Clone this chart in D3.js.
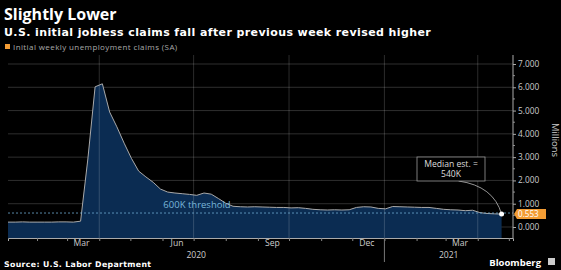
<!DOCTYPE html>
<html>
<head>
<meta charset="utf-8">
<script src="https://cdn.jsdelivr.net/npm/d3@7"></script>
<style>
  html, body { margin: 0; padding: 0; background: #000; }
  svg { display: block; font-family: "Open Sans", "DejaVu Sans", sans-serif; }
</style>
</head>
<body>
<div id="chart"></div>
<script>
// weekly initial claims, millions, week ending Sat 2020-01-04 .. 2021-04-24
const firstWeek = new Date(2020, 0, 4)
const lastWeek = new Date(2021, 3, 24)
const claims = [
  0.21, 0.21, 0.22, 0.21, 0.21, 0.21, 0.21, 0.22, 0.22, 0.21,
  0.25, 2.92, 6.02, 6.15, 4.94, 4.30, 3.60, 2.95, 2.40, 2.15,
  1.92, 1.63, 1.50, 1.46, 1.43, 1.40, 1.36, 1.46, 1.41, 1.22,
  1.02, 0.89, 0.87, 0.86, 0.87, 0.86, 0.85, 0.84, 0.84, 0.82,
  0.83, 0.80, 0.76, 0.74, 0.73, 0.74, 0.73, 0.74, 0.84, 0.87,
  0.86, 0.80, 0.78, 0.88, 0.87, 0.86, 0.85, 0.84, 0.84, 0.80,
  0.76, 0.74, 0.73, 0.70, 0.72, 0.62, 0.58, 0.566, 0.553
]
const yTicks = [0, 1, 2, 3, 4, 5, 6, 7]
const monthLabels = ["Mar", "Jun", "Sep", "Dec", "Mar"]
const monthLabelDates = [new Date(2020, 2, 15), new Date(2020, 5, 15), new Date(2020, 8, 15), new Date(2020, 11, 15), new Date(2021, 2, 15)]
const yearLabels = ["2020", "2021"]
const thresholdValue = 0.6
const medianEstimate = ["Median est. =", "540K"]

const weeks = d3.timeSaturday.range(firstWeek, d3.timeDay.offset(lastWeek, 1))
const data = weeks.map((d, i) => ({ date: d, value: claims[i] }))

const width = 561, height = 270
const plotLeft = 8, plotRight = 513, plotTop = 55, plotBottom = 238

const svg = d3.select("#chart").append("svg")
  .attr("width", width)
  .attr("height", height)

svg.append("rect").attr("width", width).attr("height", height).attr("fill", "#000")

// scales
const x = d3.scaleTime()
  .domain([new Date(2020, 0, 4), new Date(2021, 4, 5)])
  .range([plotLeft, plotRight])

const y = d3.scaleLinear()
  .domain([0, 7])
  .range([227, 64])

// titles
svg.append("text")
  .attr("x", 4).attr("y", 20)
  .attr("fill", "#fff")
  .attr("font-size", 16).attr("font-weight", "bold")
  .text("Slightly Lower")

svg.append("text")
  .attr("x", 4).attr("y", 36)
  .attr("fill", "#fff")
  .attr("font-family", "DejaVu Sans, sans-serif")
  .attr("font-size", 11).attr("font-weight", "bold")
  .attr("letter-spacing", 0.4)
  .text("U.S. initial jobless claims fall after previous week revised higher")

// legend
svg.append("rect")
  .attr("x", 5).attr("y", 44).attr("width", 5).attr("height", 5)
  .attr("fill", "#f39c34")
svg.append("text")
  .attr("x", 13).attr("y", 49.5)
  .attr("fill", "#aaa")
  .attr("font-size", 8)
  .attr("letter-spacing", 0.4)
  .text("Initial weekly unemployment claims (SA)")

// grid
const grid = svg.append("g")
grid.selectAll("line.h")
  .data(yTicks)
  .enter().append("line")
  .attr("x1", plotLeft).attr("x2", plotRight)
  .attr("y1", d => y(d)).attr("y2", d => y(d))
  .attr("stroke", "#2e2e2e").attr("stroke-width", 1)

// area + line
svg.append("clipPath").attr("id", "clip")
  .append("rect")
  .attr("x", plotLeft).attr("y", plotTop)
  .attr("width", plotRight - plotLeft).attr("height", plotBottom - plotTop)

const area = d3.area()
  .x(d => x(d.date))
  .y0(plotBottom)
  .y1(d => y(d.value))

const line = d3.line()
  .x(d => x(d.date))
  .y(d => y(d.value))

svg.append("path")
  .datum(data)
  .attr("clip-path", "url(#clip)")
  .attr("d", area)
  .attr("fill", "#0b2c52")

// vertical grid sits over the fill
const quarterStarts = d3.timeMonth.every(3).range(new Date(2020, 3, 1), new Date(2021, 4, 1))
svg.append("g").selectAll("line")
  .data(quarterStarts)
  .enter().append("line")
  .attr("x1", d => x(d)).attr("x2", d => x(d))
  .attr("y1", plotTop).attr("y2", plotBottom)
  .attr("stroke", "#fff").attr("stroke-opacity", 0.17).attr("stroke-width", 1)

svg.append("path")
  .datum(data)
  .attr("clip-path", "url(#clip)")
  .attr("d", line)
  .attr("fill", "none")
  .attr("stroke", "#a9a9a9")
  .attr("stroke-width", 1)

// threshold
svg.append("line")
  .attr("x1", plotLeft).attr("x2", plotRight)
  .attr("y1", y(thresholdValue)).attr("y2", y(thresholdValue))
  .attr("stroke", "#6fa9d2")
  .attr("stroke-width", 0.8)
  .attr("stroke-dasharray", "2,2")

svg.append("text")
  .attr("x", 197).attr("y", y(thresholdValue) - 5)
  .attr("text-anchor", "middle")
  .attr("fill", "#79b6da")
  .attr("font-size", 9.5)
  .text("600K threshold")

// y axis (right)
const yAxis = d3.axisRight(y)
  .tickValues(yTicks)
  .tickFormat(d3.format(".3f"))
  .tickSize(3)
  .tickPadding(2)

const yAxisGroup = svg.append("g")
  .attr("transform", `translate(${plotRight}, 0)`)
  .call(yAxis)
yAxisGroup.select(".domain").remove()
yAxisGroup.selectAll("line").attr("stroke", "#aaa")
yAxisGroup.selectAll("text")
  .attr("fill", "#ccc")
  .attr("font-size", 8.3)
  .attr("dy", "0.3em")
  .attr("font-family", "Open Sans, DejaVu Sans, sans-serif")

// minor ticks at half millions
yAxisGroup.selectAll("line.minor")
  .data(d3.range(0.5, 7, 1))
  .enter().append("line")
  .attr("x1", 0).attr("x2", 2)
  .attr("y1", d => y(d)).attr("y2", d => y(d))
  .attr("stroke", "#888")

svg.append("line")
  .attr("x1", plotRight).attr("x2", plotRight)
  .attr("y1", plotTop).attr("y2", plotBottom)
  .attr("stroke", "#aaa")

svg.append("text")
  .attr("transform", `translate(552, 140) rotate(90)`)
  .attr("text-anchor", "middle")
  .attr("fill", "#ccc")
  .attr("font-size", 9.5)
  .text("Millions")

// x axis
const xAxis = d3.axisBottom(x)
  .ticks(d3.timeMonth.every(1))
  .tickSize(3)
  .tickFormat("")

const xAxisGroup = svg.append("g")
  .attr("transform", `translate(0, ${plotBottom})`)
  .call(xAxis)
xAxisGroup.select(".domain").attr("stroke", "#aaa")
xAxisGroup.selectAll("line").attr("stroke", "#888")

svg.selectAll("text.month")
  .data(monthLabels)
  .enter().append("text")
  .attr("x", (d, i) => x(monthLabelDates[i]))
  .attr("y", 246)
  .attr("text-anchor", "middle")
  .attr("fill", "#ccc")
  .attr("font-size", 8.6)
  .text(d => d)

const yearBreak = new Date(2021, 0, 1)
svg.append("line")
  .attr("x1", x(yearBreak)).attr("x2", x(yearBreak))
  .attr("y1", plotBottom).attr("y2", 262)
  .attr("stroke", "#777")

svg.selectAll("text.year")
  .data(yearLabels)
  .enter().append("text")
  .attr("x", (d, i) => i === 0 ? (plotLeft + x(yearBreak)) / 2 : (x(yearBreak) + plotRight) / 2)
  .attr("y", 258)
  .attr("text-anchor", "middle")
  .attr("fill", "#ccc")
  .attr("font-size", 8.6)
  .text(d => d)

// last value
const last = data[data.length - 1]

svg.append("path")
  .attr("d", `M${x(last.date) - 43},181 Q${x(last.date) - 8},186 ${x(last.date)},${y(last.value)}`)
  .attr("fill", "none")
  .attr("stroke", "#bbb")
  .attr("stroke-width", 0.8)

svg.append("circle")
  .attr("cx", x(last.date)).attr("cy", y(last.value))
  .attr("r", 2.5)
  .attr("fill", "#fff")

const tagY = y(last.value)
svg.append("path")
  .attr("d", `M${plotRight + 1},${tagY} L${plotRight + 4},${tagY - 5} L${plotRight + 33},${tagY - 5} L${plotRight + 33},${tagY + 5} L${plotRight + 4},${tagY + 5} Z`)
  .attr("fill", "#f39c34")
svg.append("text")
  .attr("x", plotRight + 5).attr("y", tagY + 3)
  .attr("fill", "#fff")
  .attr("font-size", 8.1)
  .text(d3.format(".3f")(last.value))

// median estimate callout
svg.append("rect")
  .attr("x", 417).attr("y", 157)
  .attr("width", 68).attr("height", 24)
  .attr("fill", "#000")
  .attr("stroke", "#999")
  .attr("stroke-width", 0.8)

svg.selectAll("text.median")
  .data(medianEstimate)
  .enter().append("text")
  .attr("x", 451)
  .attr("y", (d, i) => 166.5 + i * 10.5)
  .attr("text-anchor", "middle")
  .attr("fill", "#ddd")
  .attr("font-size", 8.6)
  .text(d => d)

// footer
svg.append("text")
  .attr("x", 4).attr("y", 267)
  .attr("fill", "#fff")
  .attr("font-family", "DejaVu Sans, sans-serif")
  .attr("font-size", 7.8).attr("font-weight", "bold")
  .attr("letter-spacing", 0.35)
  .text("Source: U.S. Labor Department")

svg.append("text")
  .attr("x", 541).attr("y", 266)
  .attr("text-anchor", "end")
  .attr("fill", "#fff")
  .attr("font-size", 9.5).attr("font-weight", "bold")
  .text("Bloomberg")

svg.append("rect")
  .attr("x", 548).attr("y", 258).attr("width", 7).attr("height", 7)
  .attr("fill", "#ccc")
</script>
</body>
</html>
